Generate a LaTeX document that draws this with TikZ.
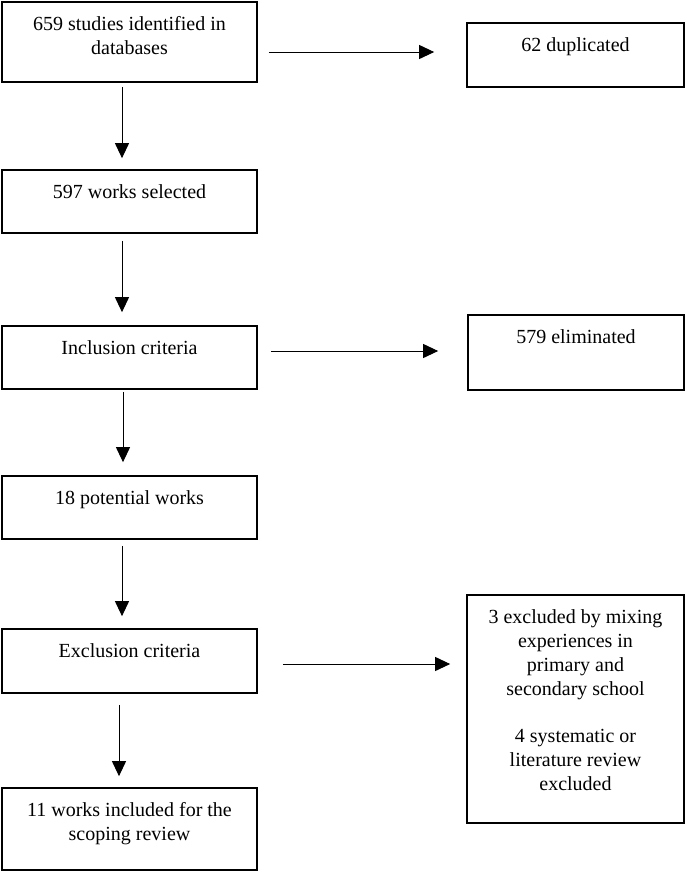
\documentclass[tikz,border=0pt]{standalone}
\usepackage{fontspec}
\setmainfont{Liberation Serif}
\usetikzlibrary{arrows.meta}
\newcommand\bxtext[3]{\parbox[c][#2][t]{#1}{\centering\fontsize{20}{24}\selectfont\rule{0pt}{28.5pt}#3\par}}
\tikzset{
  box/.style={draw, line width=1.7pt, inner sep=0pt},
  arr/.style={line width=1pt, -{Triangle[length=15pt,width=14pt]}}
}
\begin{document}
\begin{tikzpicture}[x=1pt,y=-1pt]
\useasboundingbox (0,0) rectangle (685,871);
% left column
\node[box] (b1) at (129.5,42)   {\bxtext{255pt}{80pt}{659 studies identified in\\databases}};
\node[box] (b3) at (129.5,201.5){\bxtext{255pt}{63pt}{597 works selected}};
\node[box] (b4) at (129.5,357.5){\bxtext{255pt}{63pt}{Inclusion criteria}};
\node[box] (b6) at (129.5,507.5){\bxtext{255pt}{63pt}{18 potential works}};
\node[box] (b7) at (129.5,661)  {\bxtext{255pt}{64pt}{Exclusion criteria}};
\node[box] (b8) at (129.5,829)  {\bxtext{255pt}{82pt}{11 works included for the\\scoping review}};
% right column
\node[box] (b2) at (575.5,55)   {\bxtext{217pt}{64pt}{62 duplicated}};
\node[box] (b5) at (576,352.5)  {\bxtext{216pt}{75pt}{579 eliminated}};
\node[box] (b9) at (575.5,709)  {\bxtext{217pt}{228pt}{3 excluded by mixing\\experiences in\\primary and\\secondary school\\[23pt]4 systematic or\\literature review\\excluded}};
% vertical arrows
\coordinate (v1) at ([xshift=-7.5pt]b1.south);
\draw[arr, shorten <=4pt, shorten >=11pt] (v1) -- (v1 |- b3.north);
\coordinate (v2) at ([xshift=-7.5pt]b3.south);
\draw[arr, shorten <=7pt, shorten >=13pt] (v2) -- (v2 |- b4.north);
\coordinate (v3) at ([xshift=-6.5pt]b4.south);
\draw[arr, shorten <=2pt, shorten >=13pt] (v3) -- (v3 |- b6.north);
\coordinate (v4) at ([xshift=-7.5pt]b6.south);
\draw[arr, shorten <=6pt, shorten >=12pt] (v4) -- (v4 |- b7.north);
\coordinate (v5) at ([xshift=-10.5pt]b7.south);
\draw[arr, shorten <=11pt, shorten >=11pt] (v5) -- (v5 |- b8.north);
% horizontal arrows
\coordinate (h1) at ([yshift=-10pt]b1.east);
\draw[arr, shorten <=11pt, shorten >=32pt] (h1) -- (h1 -| b2.west);
\coordinate (h2) at ([yshift=6.5pt]b4.east);
\draw[arr, shorten <=13pt, shorten >=29pt] (h2) -- (h2 -| b5.west);
\coordinate (h3) at ([yshift=-3pt]b7.east);
\draw[arr, shorten <=25pt, shorten >=16pt] (h3) -- (h3 -| b9.west);
\end{tikzpicture}
\end{document}
